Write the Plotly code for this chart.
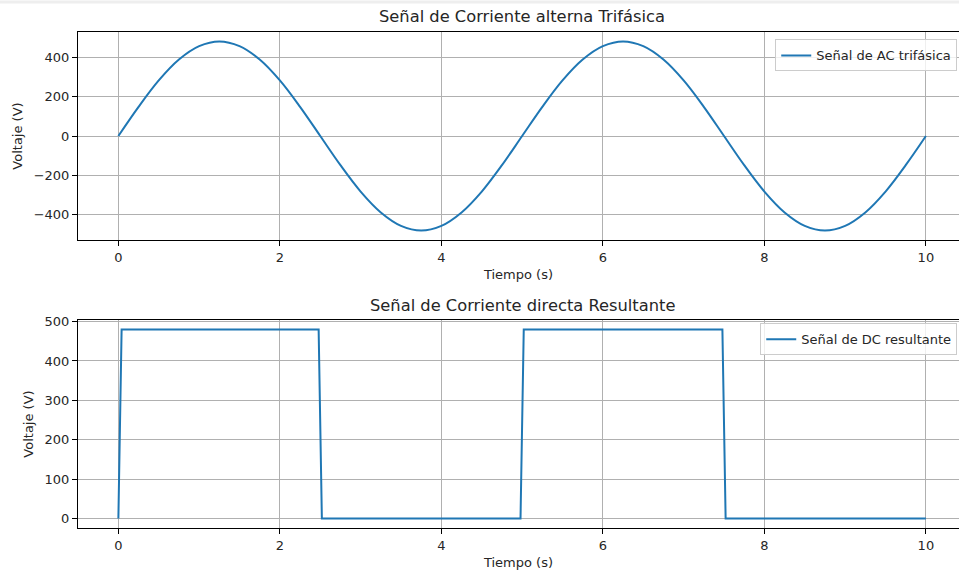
import plotly.graph_objects as go

# Data
t_ac = [0, 0.25, 0.5, 0.75, 1.0, 1.25, 1.5, 1.75, 2.0, 2.25, 2.5,
        2.75, 3.0, 3.25, 3.5, 3.75, 4.0, 4.25, 4.5, 4.75, 5.0,
        5.25, 5.5, 5.75, 6.0, 6.25, 6.5, 6.75, 7.0, 7.25, 7.5,
        7.75, 8.0, 8.25, 8.5, 8.75, 9.0, 9.25, 9.5, 9.75, 10.0]
v_ac = [0, 148, 282, 388, 456, 480, 456, 388, 282, 148, 0,
        -148, -282, -388, -456, -480, -456, -388, -282, -148, 0,
        148, 282, 388, 456, 480, 456, 388, 282, 148, 0,
        -148, -282, -388, -456, -480, -456, -388, -282, -148, 0]

t_dc = [0, 0.04, 2.48, 2.52, 4.98, 5.02, 7.48, 7.52, 10.0]
v_dc = [0, 480, 480, 0, 0, 480, 480, 0, 0]

x_ticks = [0, 2, 4, 6, 8, 10]
y_ticks_ac = [-400, -200, 0, 200, 400]
y_ticks_dc = [0, 100, 200, 300, 400, 500]

title_ac = "Señal de Corriente alterna Trifásica"
title_dc = "Señal de Corriente directa Resultante"
label_ac = "Señal de AC trifásica"
label_dc = "Señal de DC resultante"

BLUE = "#1f77b4"
TXT = "#262626"
FONT = "DejaVu Sans"

fig = go.Figure()
fig.add_trace(go.Scatter(x=t_ac, y=v_ac, mode="lines", name=label_ac,
                         line=dict(color=BLUE, width=2, shape="spline", smoothing=1),
                         xaxis="x", yaxis="y", legend="legend"))
fig.add_trace(go.Scatter(x=t_dc, y=v_dc, mode="lines", name=label_dc,
                         line=dict(color=BLUE, width=2),
                         xaxis="x2", yaxis="y2", legend="legend2"))

W, H = 959, 571
ML, MR, MT, MB = 78, 0, 32, 43
PH = H - MT - MB

axis_common = dict(showline=True, linecolor="black", linewidth=1, mirror=True,
                   ticks="outside", ticklen=5, tickcolor="black", tickwidth=1,
                   showgrid=True, gridcolor="#b0b0b0", gridwidth=1,
                   zeroline=False, tickfont=dict(size=13, color=TXT, family=FONT))

xr = [-0.5, 10.41]

fig.update_layout(
    width=W, height=H,
    margin=dict(l=ML, r=MR, t=MT, b=MB),
    paper_bgcolor="white", plot_bgcolor="white",
    font=dict(family=FONT, color=TXT, size=13),
    xaxis=dict(domain=[0, 1], range=xr, tickvals=x_ticks, anchor="y",
               title=dict(text="Tiempo (s)", font=dict(size=13), standoff=6), **axis_common),
    yaxis=dict(domain=[1 - 208 / PH, 1], range=[-528, 528], tickvals=y_ticks_ac,
               tickformat="d", anchor="x",
               title=dict(text="Voltaje (V)", font=dict(size=13), standoff=8), **axis_common),
    xaxis2=dict(domain=[0, 1], range=xr, tickvals=x_ticks, anchor="y2",
                title=dict(text="Tiempo (s)", font=dict(size=13), standoff=6), **axis_common),
    yaxis2=dict(domain=[0, 1 - 288 / PH], range=[-24, 504], tickvals=y_ticks_dc,
                anchor="x2",
                title=dict(text="Voltaje (V)", font=dict(size=13), standoff=8), **axis_common),
    legend=dict(x=0.998, y=0.985, xanchor="right", yanchor="top",
                bgcolor="rgba(255,255,255,0.8)", bordercolor="#cccccc", borderwidth=1,
                itemwidth=30,
                font=dict(size=13, color=TXT, family=FONT)),
    legend2=dict(x=0.998, y=0.4125, xanchor="right", yanchor="top",
                 bgcolor="rgba(255,255,255,0.8)", bordercolor="#cccccc", borderwidth=1,
                 itemwidth=30,
                 font=dict(size=13, color=TXT, family=FONT)),
    showlegend=True,
    annotations=[
        dict(text=title_ac, xref="paper", yref="paper", x=(522 - ML) / (W - ML - MR),
             y=1 + (32 - 17) / PH, xanchor="center", yanchor="middle", showarrow=False,
             font=dict(size=16.3, color=TXT, family=FONT)),
        dict(text=title_dc, xref="paper", yref="paper", x=(522 - ML) / (W - ML - MR),
             y=1 - (305 - MT) / PH, xanchor="center", yanchor="middle", showarrow=False,
             font=dict(size=16.3, color=TXT, family=FONT)),
    ],
    shapes=[dict(type="line", xref="paper", yref="paper", x0=-ML / (W - ML), x1=1,
                 y0=1 + (MT - 2) / PH, y1=1 + (MT - 2) / PH,
                 line=dict(color="#eeeeee", width=3))],
)

fig.write_html("out.html", config={"displayModeBar": False},
               post_script="document.body.style.margin='0';document.body.style.overflow='hidden';")
